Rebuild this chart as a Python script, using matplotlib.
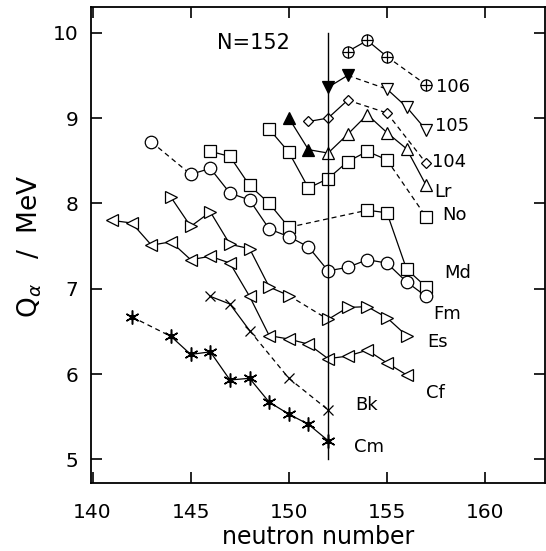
import matplotlib
matplotlib.use('Agg')
import matplotlib.pyplot as plt

plt.rcParams['font.family'] = ['DejaVu Sans']

# alpha decay energies, Q_alpha in MeV, vs neutron number
n106 = [153, 154, 155, 157]
q106 = [9.78, 9.91, 9.72, 9.39]
n105 = [152, 153, 155, 156, 157]
q105 = [9.36, 9.50, 9.34, 9.13, 8.86]
n104 = [151, 152, 153, 155, 157]
q104 = [8.96, 9.00, 9.21, 9.06, 8.47]
nLr = [150, 151, 152, 153, 154, 155, 156, 157]
qLr = [9.00, 8.63, 8.59, 8.81, 9.04, 8.83, 8.64, 8.21]
nNo = [149, 150, 151, 152, 153, 154, 155, 157]
qNo = [8.87, 8.60, 8.18, 8.29, 8.49, 8.61, 8.51, 7.84]
nMd = [146, 147, 148, 149, 150, 154, 155, 156, 157]
qMd = [8.61, 8.55, 8.21, 8.00, 7.72, 7.92, 7.89, 7.23, 7.02]
nFm = [143, 145, 146, 147, 148, 149, 150, 151, 152, 153, 154, 155, 156, 157]
qFm = [8.72, 8.34, 8.41, 8.12, 8.04, 7.70, 7.61, 7.49, 7.21, 7.25, 7.34, 7.30, 7.08, 6.91]
nEs = [144, 145, 146, 147, 148, 149, 150, 152, 153, 154, 155, 156]
qEs = [8.07, 7.73, 7.90, 7.52, 7.47, 7.02, 6.92, 6.64, 6.78, 6.79, 6.66, 6.45]
nCf = [141, 142, 143, 144, 145, 146, 147, 148, 149, 150, 151, 152, 153, 154, 155, 156]
qCf = [7.80, 7.77, 7.51, 7.55, 7.34, 7.38, 7.30, 6.91, 6.45, 6.41, 6.35, 6.18, 6.21, 6.28, 6.13, 5.99]
nBk = [146, 147, 148, 150, 152]
qBk = [6.91, 6.82, 6.51, 5.95, 5.58]
nCm = [142, 144, 145, 146, 147, 148, 149, 150, 151, 152]
qCm = [6.67, 6.44, 6.23, 6.26, 5.93, 5.95, 5.67, 5.53, 5.41, 5.22]

labels = ['106', '105', '104', 'Lr', 'No', 'Md', 'Fm', 'Es', 'Cf', 'Bk', 'Cm']
label_n = [158.36, 158.34, 158.19, 157.88, 158.45, 158.61, 158.05, 157.59, 157.47, 153.94, 154.11]
label_q = [9.36, 8.91, 8.48, 8.13, 7.86, 7.18, 6.70, 6.37, 5.78, 5.64, 5.15]

# line style of each segment between neighbouring points
s106 = ['-', '-', '--']
s105 = ['-', '--', '-', '-']
s104 = ['-', '-', '--', '--']
sLr = ['-'] * 7
sNo = ['-'] * 6 + ['--']
sMd = ['-', '-', '-', '-', '--', '-', '-', '-']
sFm = ['--'] + ['-'] * 12
sEs = ['-'] * 6 + ['--'] + ['-'] * 4
sCf = ['-'] * 15
sBk = ['-', '-', '--', '--']
sCm = ['--'] + ['-'] * 8

fig = plt.figure(figsize=(5.46, 5.51), dpi=100)
ax = fig.add_axes([0.166, 0.123, 0.832, 0.864])


def segs(n, q, st):
    for i, ls in enumerate(st):
        ax.plot(n[i:i + 2], q[i:i + 2], ls, color='k', lw=0.9,
                dashes=(4, 3) if ls == '--' else (None, None), zorder=2)


def marks(n, q, m, ms, filled=0, mew=0.9):
    ax.plot(n[filled:], q[filled:], m, ms=ms, mfc='white', mec='k', mew=mew, zorder=3)
    if filled:
        ax.plot(n[:filled], q[:filled], m, ms=ms, mfc='k', mec='k', mew=mew, zorder=3)


segs(n106, q106, s106)
segs(n105, q105, s105)
segs(n104, q104, s104)
segs(nLr, qLr, sLr)
segs(nNo, qNo, sNo)
segs(nMd, qMd, sMd)
segs(nFm, qFm, sFm)
segs(nEs, qEs, sEs)
segs(nCf, qCf, sCf)
segs(nBk, qBk, sBk)
segs(nCm, qCm, sCm)

marks(n106, q106, 'o', 8)
ax.plot(n106, q106, '+', ms=8, color='k', mew=0.9, zorder=4)
marks(n105, q105, 'v', 9, filled=2)
marks(n104, q104, 'D', 5.5)
marks(nLr, qLr, '^', 9, filled=2)
marks(nNo, qNo, 's', 8)
marks(nMd, qMd, 's', 8)
marks(nFm, qFm, 'o', 9)
marks(nEs, qEs, '>', 9)
marks(nCf, qCf, '<', 9)
ax.plot(nBk, qBk, 'x', ms=7, color='k', mew=0.9, zorder=3)
ax.plot(nCm, qCm, marker=(6, 2, 0), ls='none', ms=10, color='k', mew=1.1, zorder=3)
ax.plot(nCm, qCm, 'o', ms=3, color='k', zorder=3)

ax.plot([152, 152], [5, 10], color='k', lw=1.0, zorder=5)
ax.text(148.19, 9.885, 'N=152', fontsize=15, ha='center', va='center')

for t, x, y in zip(labels, label_n, label_q):
    ax.text(x, y, t, fontsize=13, ha='center', va='center')

ax.set_xlim(139.9, 163.05)
ax.set_ylim(4.72, 10.30)
ax.set_xticks([140, 145, 150, 155, 160])
ax.set_yticks([5, 6, 7, 8, 9, 10])
ax.tick_params(direction='in', length=8, width=1.2, top=True, right=True,
               labelsize=14.5)
ax.tick_params(axis='x', pad=14)
ax.tick_params(axis='y', pad=9)
for sp in ax.spines.values():
    sp.set_linewidth(1.3)

fig.text(318.5 / 546, 2 / 551, 'neutron number', fontsize=17,
         ha='center', va='bottom')
fig.text(30 / 546, 1 - 246 / 551, r'Q$_\alpha$   /  MeV', fontsize=19,
         rotation=90, ha='center', va='center')

fig.savefig('out.png', dpi=100)
